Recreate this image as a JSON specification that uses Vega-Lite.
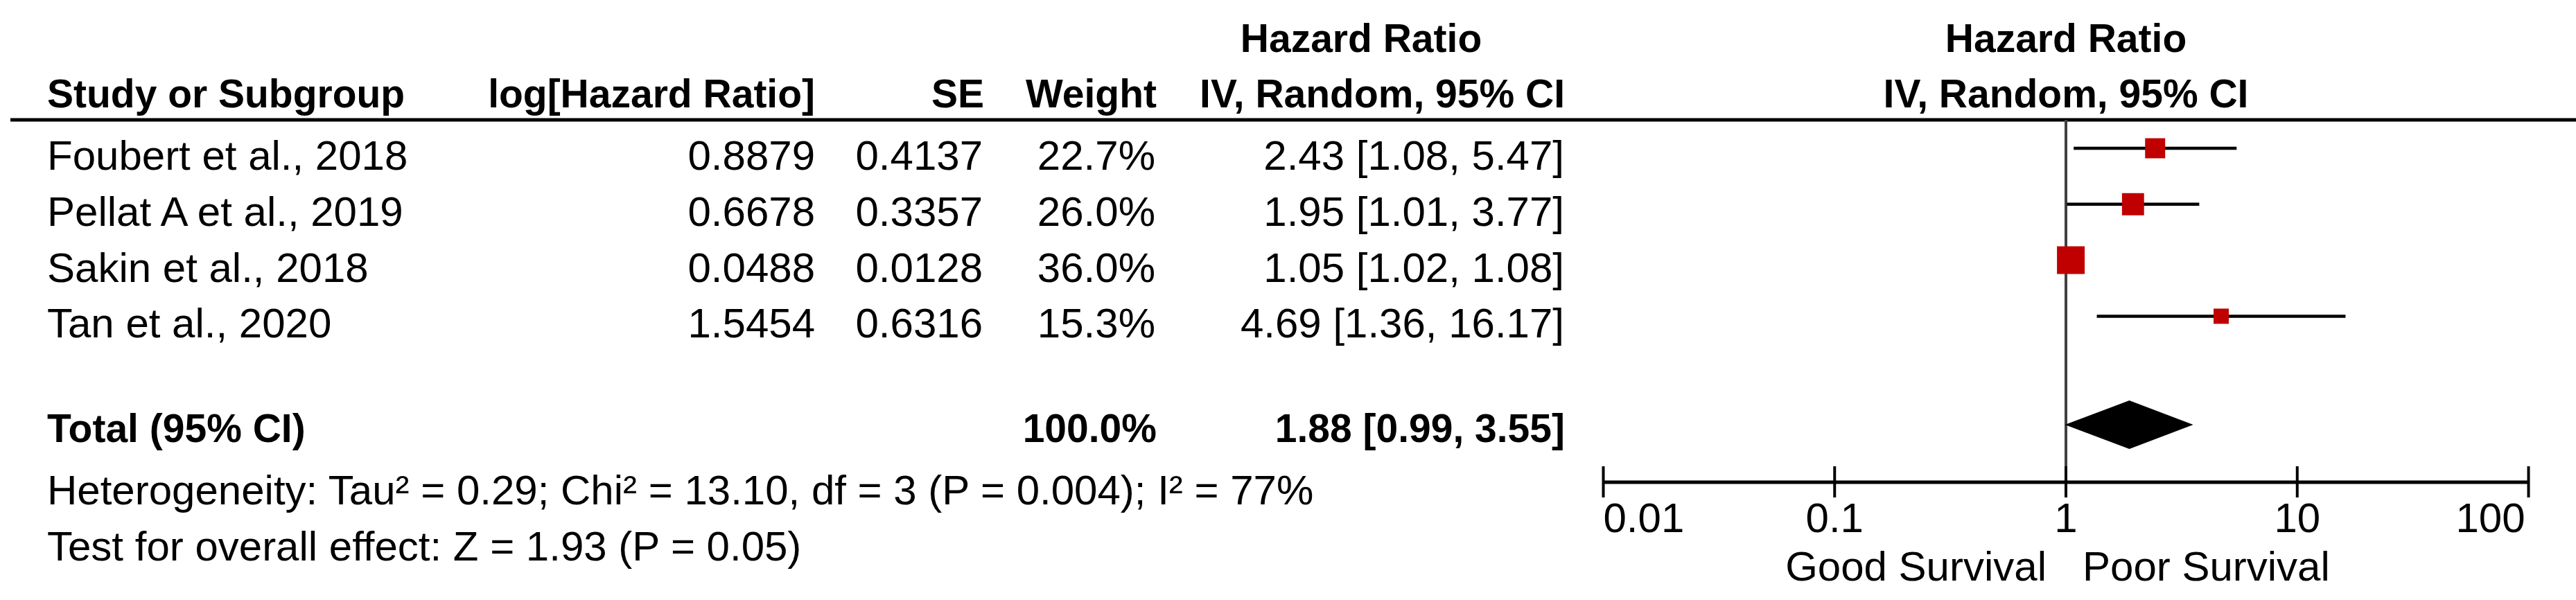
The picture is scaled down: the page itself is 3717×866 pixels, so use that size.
{
  "$schema": "https://vega.github.io/schema/vega-lite/v6.json",
  "width": 3717,
  "height": 866,
  "autosize": {"type": "none"},
  "padding": 0,
  "background": "white",
  "config": {
    "view": {"stroke": null},
    "axis": {"disable": true},
    "text": {"font": "Liberation Sans", "fontSize": 60, "color": "black"}
  },
  "datasets": {
    "studies": [
      {"study": "Foubert et al., 2018", "loghr": "0.8879", "se": "0.4137", "weight": 22.7, "weight_txt": "22.7%", "hr": 2.43, "lo": 1.08, "hi": 5.47, "ci": "2.43 [1.08, 5.47]", "row": 1},
      {"study": "Pellat A et al., 2019", "loghr": "0.6678", "se": "0.3357", "weight": 26.0, "weight_txt": "26.0%", "hr": 1.95, "lo": 1.01, "hi": 3.77, "ci": "1.95 [1.01, 3.77]", "row": 2},
      {"study": "Sakin et al., 2018", "loghr": "0.0488", "se": "0.0128", "weight": 36.0, "weight_txt": "36.0%", "hr": 1.05, "lo": 1.02, "hi": 1.08, "ci": "1.05 [1.02, 1.08]", "row": 3},
      {"study": "Tan et al., 2020", "loghr": "1.5454", "se": "0.6316", "weight": 15.3, "weight_txt": "15.3%", "hr": 4.69, "lo": 1.36, "hi": 16.17, "ci": "4.69 [1.36, 16.17]", "row": 4}
    ],
    "diamond": [
      {"hr": 0.99, "top": 5.938, "bottom": 5.938},
      {"hr": 1.88, "top": 5.505, "bottom": 6.371},
      {"hr": 3.55, "top": 5.938, "bottom": 5.938}
    ],
    "ticks": [{"v": 0.01}, {"v": 0.1}, {"v": 1}, {"v": 10}, {"v": 100}]
  },
  "resolve": {"scale": {"x": "independent"}},
  "layer": [
    {
      "layer": [
        {
          "data": {"values": [{"a": 0}]},
          "mark": {"type": "rule", "stroke": "black", "strokeWidth": 5},
          "encoding": {
            "x": {"datum": 15, "type": "quantitative", "scale": {"type": "linear", "domain": [0, 3717], "nice": false, "zero": false}, "axis": null},
            "x2": {"datum": 3717},
            "y": {"datum": 0.493, "type": "quantitative", "scale": {"type": "linear", "domain": [-1.6485, 9.0693], "nice": false, "zero": false, "reverse": true}, "axis": null}
          }
        },
        {
          "data": {"name": "studies"},
          "mark": {"type": "text", "align": "left", "baseline": "alphabetic", "dy": 31},
          "encoding": {
            "x": {"datum": 68, "type": "quantitative", "scale": {"type": "linear", "domain": [0, 3717], "nice": false, "zero": false}, "axis": null},
            "y": {"field": "row", "type": "quantitative", "axis": null},
            "text": {"field": "study"}
          }
        },
        {
          "data": {"name": "studies"},
          "mark": {"type": "text", "align": "right", "baseline": "alphabetic", "dy": 31},
          "encoding": {
            "x": {"datum": 1176, "type": "quantitative", "axis": null},
            "y": {"field": "row", "type": "quantitative", "axis": null},
            "text": {"field": "loghr"}
          }
        },
        {
          "data": {"name": "studies"},
          "mark": {"type": "text", "align": "right", "baseline": "alphabetic", "dy": 31},
          "encoding": {
            "x": {"datum": 1418, "type": "quantitative", "axis": null},
            "y": {"field": "row", "type": "quantitative", "axis": null},
            "text": {"field": "se"}
          }
        },
        {
          "data": {"name": "studies"},
          "mark": {"type": "text", "align": "right", "baseline": "alphabetic", "dy": 31},
          "encoding": {
            "x": {"datum": 1667, "type": "quantitative", "axis": null},
            "y": {"field": "row", "type": "quantitative", "axis": null},
            "text": {"field": "weight_txt"}
          }
        },
        {
          "data": {"name": "studies"},
          "mark": {"type": "text", "align": "right", "baseline": "alphabetic", "dy": 31},
          "encoding": {
            "x": {"datum": 2257, "type": "quantitative", "axis": null},
            "y": {"field": "row", "type": "quantitative", "axis": null},
            "text": {"field": "ci"}
          }
        },
        {
          "data": {"values": [
            {"label": "Heterogeneity: Tau² = 0.29; Chi² = 13.10, df = 3 (P = 0.004); I² = 77%", "row": 6.978},
            {"label": "Test for overall effect: Z = 1.93 (P = 0.05)", "row": 7.98}
          ]},
          "mark": {"type": "text", "align": "left", "baseline": "alphabetic", "dy": 31},
          "encoding": {
            "x": {"datum": 68, "type": "quantitative", "axis": null},
            "y": {"field": "row", "type": "quantitative", "axis": null},
            "text": {"field": "label"}
          }
        },
        {
          "data": {"values": [
            {"label": "Study or Subgroup", "row": -0.114},
            {"label": "Total (95% CI)", "row": 5.86}
          ]},
          "mark": {"type": "text", "align": "left", "baseline": "alphabetic", "dy": 31, "fontWeight": "bold", "fontSize": 57},
          "encoding": {
            "x": {"datum": 68, "type": "quantitative", "axis": null},
            "y": {"field": "row", "type": "quantitative", "axis": null},
            "text": {"field": "label"}
          }
        },
        {
          "data": {"values": [{"label": "log[Hazard Ratio]", "row": -0.114}]},
          "mark": {"type": "text", "align": "right", "baseline": "alphabetic", "dy": 31, "fontWeight": "bold", "fontSize": 57},
          "encoding": {
            "x": {"datum": 1176, "type": "quantitative", "axis": null},
            "y": {"field": "row", "type": "quantitative", "axis": null},
            "text": {"field": "label"}
          }
        },
        {
          "data": {"values": [{"label": "SE", "row": -0.114}]},
          "mark": {"type": "text", "align": "right", "baseline": "alphabetic", "dy": 31, "fontWeight": "bold", "fontSize": 57},
          "encoding": {
            "x": {"datum": 1420, "type": "quantitative", "axis": null},
            "y": {"field": "row", "type": "quantitative", "axis": null},
            "text": {"field": "label"}
          }
        },
        {
          "data": {"values": [
            {"label": "Weight", "row": -0.114},
            {"label": "100.0%", "row": 5.86}
          ]},
          "mark": {"type": "text", "align": "right", "baseline": "alphabetic", "dy": 31, "fontWeight": "bold", "fontSize": 57},
          "encoding": {
            "x": {"datum": 1669, "type": "quantitative", "axis": null},
            "y": {"field": "row", "type": "quantitative", "axis": null},
            "text": {"field": "label"}
          }
        },
        {
          "data": {"values": [
            {"label": "IV, Random, 95% CI", "row": -0.114},
            {"label": "1.88 [0.99, 3.55]", "row": 5.86}
          ]},
          "mark": {"type": "text", "align": "right", "baseline": "alphabetic", "dy": 31, "fontWeight": "bold", "fontSize": 57},
          "encoding": {
            "x": {"datum": 2258, "type": "quantitative", "axis": null},
            "y": {"field": "row", "type": "quantitative", "axis": null},
            "text": {"field": "label"}
          }
        },
        {
          "data": {"values": [{"label": "Hazard Ratio", "row": -1.104}]},
          "mark": {"type": "text", "align": "center", "baseline": "alphabetic", "dy": 31, "fontWeight": "bold", "fontSize": 57},
          "encoding": {
            "x": {"datum": 1964, "type": "quantitative", "axis": null},
            "y": {"field": "row", "type": "quantitative", "axis": null},
            "text": {"field": "label"}
          }
        }
      ]
    },
    {
      "layer": [
        {
          "data": {"values": [{"v": 1, "y1": 0.493, "y2": 6.965}]},
          "mark": {"type": "rule", "stroke": "#404040", "strokeWidth": 4},
          "encoding": {
            "x": {"field": "v", "type": "quantitative", "scale": {"type": "log", "domain": [1.17e-9, 160.4], "nice": false}, "axis": null},
            "y": {"field": "y1", "type": "quantitative", "axis": null},
            "y2": {"field": "y2"}
          }
        },
        {
          "data": {"values": [{"a": 0}]},
          "mark": {"type": "rule", "stroke": "black", "strokeWidth": 5},
          "encoding": {
            "x": {"datum": 0.01, "type": "quantitative", "axis": null},
            "x2": {"datum": 100},
            "y": {"datum": 6.965, "type": "quantitative", "axis": null}
          }
        },
        {
          "data": {"name": "ticks"},
          "mark": {"type": "rule", "stroke": "black", "strokeWidth": 4},
          "encoding": {
            "x": {"field": "v", "type": "quantitative", "axis": null},
            "y": {"datum": 6.681, "type": "quantitative", "axis": null},
            "y2": {"datum": 7.238}
          }
        },
        {
          "data": {"name": "ticks"},
          "transform": [{"filter": "datum.v == 0.01"}],
          "mark": {"type": "text", "align": "left", "baseline": "alphabetic", "dy": 31},
          "encoding": {
            "x": {"field": "v", "type": "quantitative", "axis": null},
            "y": {"datum": 7.473, "type": "quantitative", "axis": null},
            "text": {"field": "v", "type": "nominal"}
          }
        },
        {
          "data": {"name": "ticks"},
          "transform": [{"filter": "datum.v > 0.01 && datum.v < 100"}],
          "mark": {"type": "text", "align": "center", "baseline": "alphabetic", "dy": 31},
          "encoding": {
            "x": {"field": "v", "type": "quantitative", "axis": null},
            "y": {"datum": 7.473, "type": "quantitative", "axis": null},
            "text": {"field": "v", "type": "nominal"}
          }
        },
        {
          "data": {"name": "ticks"},
          "transform": [{"filter": "datum.v == 100"}],
          "mark": {"type": "text", "align": "right", "baseline": "alphabetic", "dy": 31, "dx": -5},
          "encoding": {
            "x": {"field": "v", "type": "quantitative", "axis": null},
            "y": {"datum": 7.473, "type": "quantitative", "axis": null},
            "text": {"field": "v", "type": "nominal"}
          }
        },
        {
          "data": {"name": "studies"},
          "mark": {"type": "rule", "stroke": "black", "strokeWidth": 4.5},
          "encoding": {
            "x": {"field": "lo", "type": "quantitative", "axis": null},
            "x2": {"field": "hi"},
            "y": {"field": "row", "type": "quantitative", "axis": null}
          }
        },
        {
          "data": {"name": "studies"},
          "mark": {"type": "point", "shape": "square", "filled": true, "opacity": 1, "color": "#C00000"},
          "encoding": {
            "x": {"field": "hr", "type": "quantitative", "axis": null},
            "y": {"field": "row", "type": "quantitative", "axis": null},
            "size": {"field": "weight", "type": "quantitative", "scale": {"type": "pow", "exponent": 1.4, "domain": [0, 36], "range": [0, 1600]}, "legend": null}
          }
        },
        {
          "data": {"name": "diamond"},
          "mark": {"type": "area", "color": "black", "opacity": 1, "interpolate": "linear"},
          "encoding": {
            "x": {"field": "hr", "type": "quantitative", "axis": null},
            "y": {"field": "top", "type": "quantitative", "axis": null},
            "y2": {"field": "bottom"}
          }
        },
        {
          "data": {"values": [
            {"label": "Hazard Ratio", "row": -1.104},
            {"label": "IV, Random, 95% CI", "row": -0.114}
          ]},
          "mark": {"type": "text", "align": "center", "baseline": "alphabetic", "dy": 31, "fontWeight": "bold", "fontSize": 57},
          "encoding": {
            "x": {"datum": 1, "type": "quantitative", "axis": null},
            "y": {"field": "row", "type": "quantitative", "axis": null},
            "text": {"field": "label"}
          }
        },
        {
          "data": {"values": [{"label": "Good Survival", "row": 8.339}]},
          "mark": {"type": "text", "align": "right", "baseline": "alphabetic", "dy": 31, "dx": -28},
          "encoding": {
            "x": {"datum": 1, "type": "quantitative", "axis": null},
            "y": {"field": "row", "type": "quantitative", "axis": null},
            "text": {"field": "label"}
          }
        },
        {
          "data": {"values": [{"label": "Poor Survival", "row": 8.339}]},
          "mark": {"type": "text", "align": "left", "baseline": "alphabetic", "dy": 31, "dx": 24},
          "encoding": {
            "x": {"datum": 1, "type": "quantitative", "axis": null},
            "y": {"field": "row", "type": "quantitative", "axis": null},
            "text": {"field": "label"}
          }
        }
      ]
    }
  ]
}
